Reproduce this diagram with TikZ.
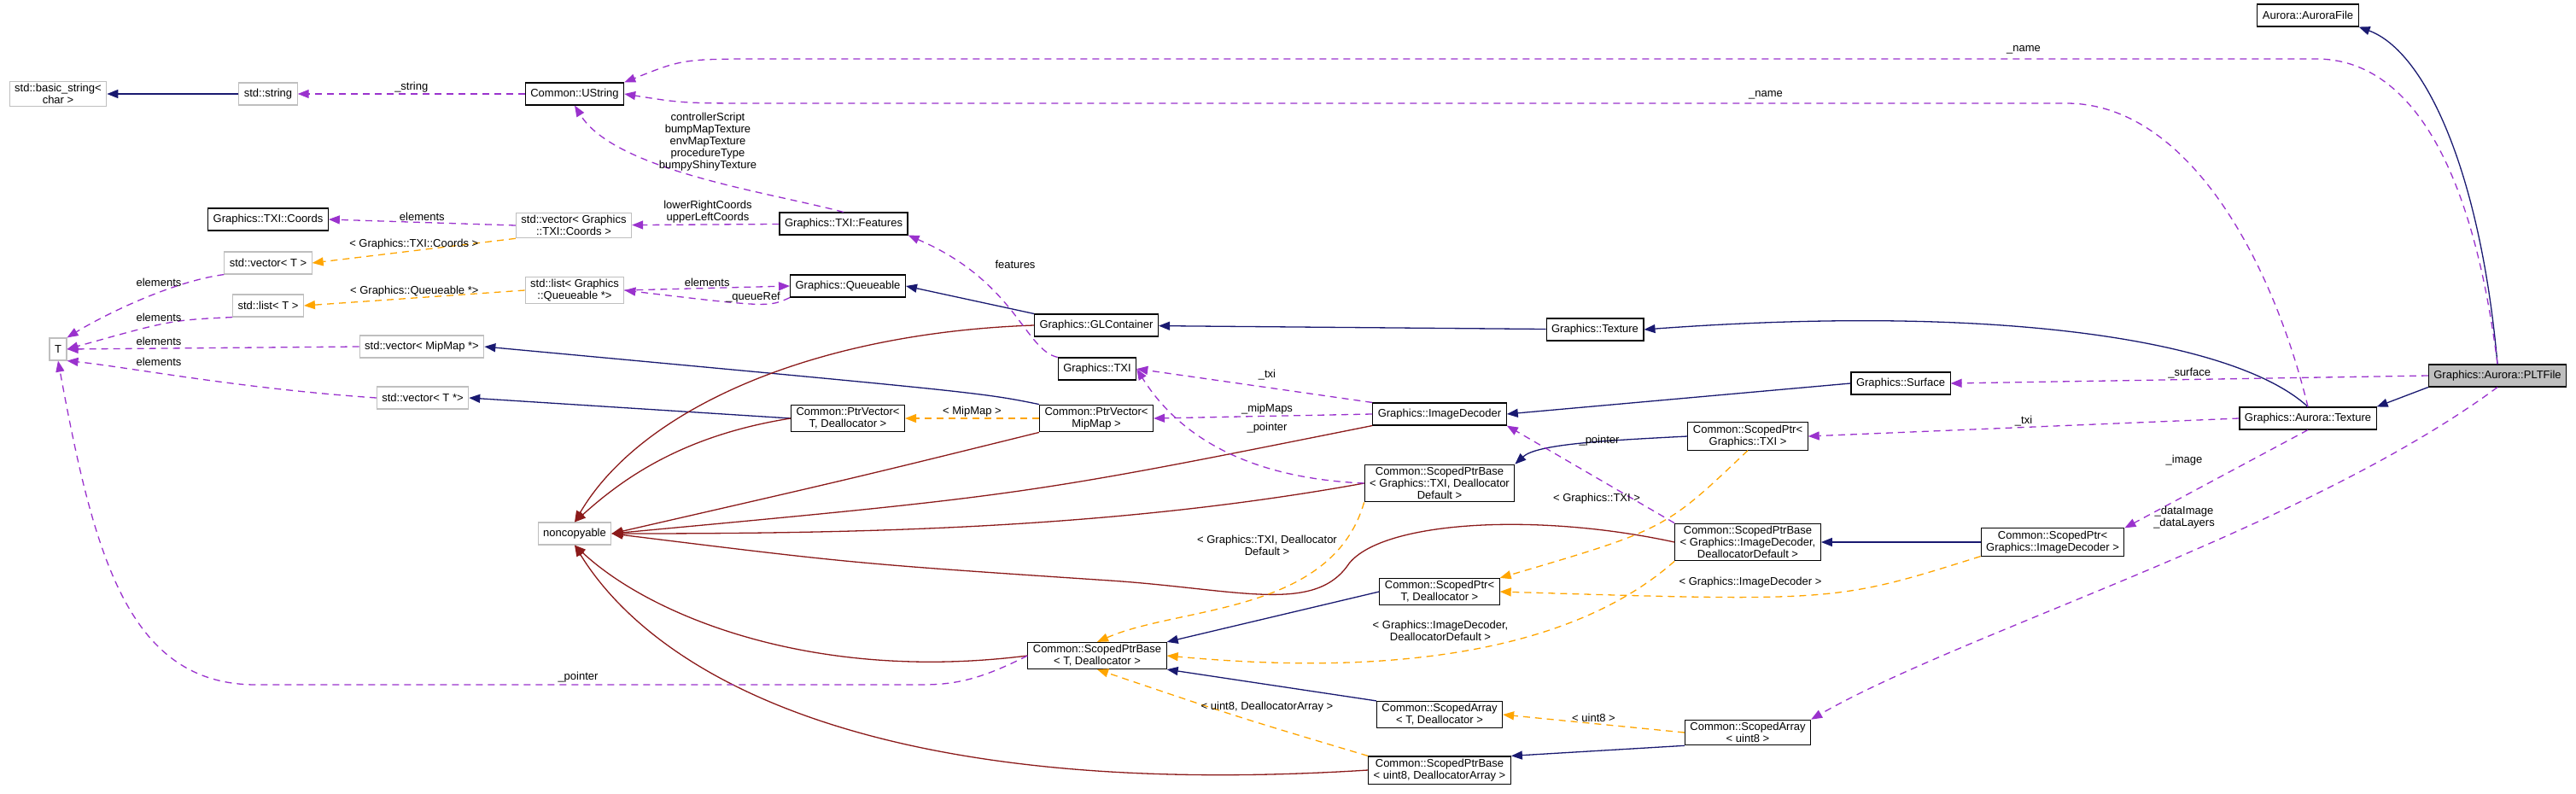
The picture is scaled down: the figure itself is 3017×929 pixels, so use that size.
\documentclass[tikz,border=0pt]{standalone}
\usepackage{fontspec}
\setmainfont{Liberation Sans}
\usetikzlibrary{arrows.meta}
\definecolor{navy}{HTML}{191970}
\definecolor{dred}{HTML}{8B1A1A}
\definecolor{purp}{HTML}{9A32CD}
\definecolor{orng}{HTML}{FFA500}
\definecolor{gbox}{HTML}{BFBFBF}
\tikzset{
  cls/.style={draw=black,line width=1.1pt,fill=white,align=center,inner xsep=6pt,inner ysep=3pt,minimum height=26pt,font=\fontsize{13}{14}\selectfont},
  ext/.style={cls,draw=gbox},
  cur/.style={cls,fill=gray!50},
  lbl/.style={font=\fontsize{13}{14}\selectfont,align=center,inner sep=1pt,text=black},
  tip/.style={-{Triangle[length=13pt,width=10pt]}},
  inh/.style={tip,navy,line width=1.3pt},
  ncp/.style={tip,dred,line width=1.3pt},
  use/.style={tip,purp,dashed,dash pattern=on 8pt off 6pt,line width=1.3pt},
  tpl/.style={tip,orng,dashed,dash pattern=on 8pt off 6pt,line width=1.3pt}
}
\begin{document}
\begin{tikzpicture}[x=1pt,y=-1pt]
    \useasboundingbox (0,0) rectangle (3017,929);
    % Nodes
    \node[ext] (bstr) at (68,110) {std::basic\_string\textless\\char \textgreater};
    \node[ext] (str) at (314,110) {std::string};
    \node[cls] (ustr) at (673,110) {Common::UString};
    \node[cls] (coords) at (314,257) {Graphics::TXI::Coords};
    \node[ext] (vcoords) at (672,264) {std::vector\textless{} Graphics\\::TXI::Coords \textgreater};
    \node[ext] (vect) at (314,308) {std::vector\textless{} T \textgreater};
    \node[ext] (lqueue) at (673,340) {std::list\textless{} Graphics\\::Queueable *\textgreater};
    \node[ext] (listt) at (314,358) {std::list\textless{} T \textgreater};
    \node[ext] (tt) at (68,409) {T};
    \node[ext] (vmip) at (494,406) {std::vector\textless{} MipMap *\textgreater};
    \node[ext] (vtp) at (495,466) {std::vector\textless{} T *\textgreater};
    \node[ext] (noncp) at (673,625) {noncopyable};
    \node[cls] (feat) at (988,262) {Graphics::TXI::Features};
    \node[cls] (queue) at (993,335) {Graphics::Queueable};
    \node[cls] (glc) at (1284,381) {Graphics::GLContainer};
    \node[cls] (txi) at (1285,432) {Graphics::TXI};
    \node[cls] (pvt) at (993,490) {Common::PtrVector\textless\\T, Deallocator \textgreater};
    \node[cls] (pvmip) at (1284,490) {Common::PtrVector\textless\\MipMap \textgreater};
    \node[cls] (imgdec) at (1686,485) {Graphics::ImageDecoder};
    \node[cls] (tex) at (1868,386) {Graphics::Texture};
    \node[cls] (spbtxi) at (1686,566) {Common::ScopedPtrBase\\\textless{} Graphics::TXI, Deallocator\\Default \textgreater};
    \node[cls] (sptxi) at (2047,511) {Common::ScopedPtr\textless\\Graphics::TXI \textgreater};
    \node[cls] (spbimg) at (2047,635) {Common::ScopedPtrBase\\\textless{} Graphics::ImageDecoder,\\DeallocatorDefault \textgreater};
    \node[cls] (spimg) at (2404,635) {Common::ScopedPtr\textless\\Graphics::ImageDecoder \textgreater};
    \node[cls] (spt) at (1686,693) {Common::ScopedPtr\textless\\T, Deallocator \textgreater};
    \node[cls] (spbt) at (1285,768) {Common::ScopedPtrBase\\\textless{} T, Deallocator \textgreater};
    \node[cls] (sat) at (1686,837) {Common::ScopedArray\\\textless{} T, Deallocator \textgreater};
    \node[cls] (sau8) at (2047,858) {Common::ScopedArray\\\textless{} uint8 \textgreater};
    \node[cls] (spbu8) at (1686,902) {Common::ScopedPtrBase\\\textless{} uint8, DeallocatorArray \textgreater};
    \node[cls] (surf) at (2226,449) {Graphics::Surface};
    \node[cls] (atex) at (2703,490) {Graphics::Aurora::Texture};
    \node[cls] (afile) at (2703,18) {Aurora::AuroraFile};
    \node[cur] (plt) at (2925,440) {Graphics::Aurora::PLTFile};
    % Inheritance
    \draw[inh] (str) -- (bstr);
    \draw[inh] (glc.north west) -- (queue.east);
    \draw[inh] (tex) -- (glc);
    \draw[inh] (atex.north) .. controls (2620,400) and (2350,355) .. (tex.east);
    \draw[inh] (plt.north) .. controls (2905,200) and (2840,60) .. (afile.south east);
    \draw[inh] (plt.south west) -- (atex.north east);
    \draw[inh] (surf.west) -- (imgdec.east);
    \draw[inh] (pvmip.north west) .. controls (1150,460) .. (vmip.east);
    \draw[inh] (pvt.west) -- (vtp.east);
    \draw[inh] (sptxi.west) .. controls (1880,516) and (1800,520) .. (spbtxi.north east);
    \draw[inh] (spimg) -- (spbimg);
    \draw[inh] (spt.west) -- (spbt.north east);
    \draw[inh] (sat.north west) -- (spbt.south east);
    \draw[inh] (sau8.south west) -- (spbu8.north east);
    % Noncopyable
    \draw[ncp] (glc.west) .. controls (950,390) and (750,480) .. (noncp.north);
    \draw[ncp] (pvt.west) .. controls (800,510) and (730,560) .. (noncp.north);
    \draw[ncp] (pvmip.south west) .. controls (1000,560) .. (noncp.east);
    \draw[ncp] (imgdec.south west) .. controls (1200,580) .. (noncp.east);
    \draw[ncp] (spbtxi.west) .. controls (1300,620) and (1000,625) .. (noncp.east);
    \draw[ncp] (spbimg.west) .. controls (1800,600) and (1620,610) .. (1580,660) .. controls (1540,720) and (1450,690) .. (1300,680) .. controls (1000,660) .. (noncp.east);
    \draw[ncp] (spbt.west) .. controls (950,800) and (760,720) .. (noncp.south);
    \draw[ncp] (spbu8.west) .. controls (1000,940) and (760,780) .. (noncp.south);
    % Members
    \draw[use] (ustr) -- node[lbl,above]{\_string} (str);
    \draw[use] (plt.north) .. controls (2890,150) and (2800,69) .. (2713,69) -- (900,69) .. controls (800,69) .. (ustr.north east);
    \node[lbl] at (2370,58) {\_name};
    \draw[use] (atex.north) .. controls (2660,300) and (2560,121) .. (2420,121) -- (900,121) .. controls (800,121) .. (ustr.east);
    \node[lbl] at (2068,111) {\_name};
    \draw[use] (feat.north) .. controls (900,225) and (720,200) .. (ustr.south);
    \node[lbl] at (829,166) {controllerScript\\bumpMapTexture\\envMapTexture\\procedureType\\bumpyShinyTexture};
    \draw[use] (feat) -- (vcoords);
    \node[lbl] at (829,248) {lowerRightCoords\\upperLeftCoords};
    \draw[use] (vcoords.west) -- node[lbl,above]{elements} (coords.east);
    \draw[use] (lqueue.east) -- node[lbl,above]{elements} (queue.west);
    \draw[use] (queue.south west) .. controls (900,360) .. node[lbl,above]{\_queueRef} (lqueue.east);
    \draw[use] (vect.south west) .. controls (200,330) and (120,370) .. (tt.north east);
    \draw[use] (listt.south west) .. controls (200,375) .. (tt.east);
    \draw[use] (vmip.west) -- (tt.east);
    \draw[use] (vtp.west) .. controls (280,455) and (150,430) .. (tt.south east);
    \node[lbl] at (186,331) {elements};
    \node[lbl] at (186,372) {elements};
    \node[lbl] at (186,400) {elements};
    \node[lbl] at (186,424) {elements};
    \draw[use] (spbt.west) .. controls (1150,795) and (1120,802) .. (1080,802) -- (300,802) .. controls (150,802) and (110,650) .. (tt.south);
    \node[lbl] at (677,793) {\_pointer};
    \draw[use] (txi.north west) .. controls (1200,410) and (1190,330) .. (feat.south east);
    \node[lbl] at (1189,310) {features};
    \draw[use] (imgdec.north west) -- (txi.east);
    \node[lbl] at (1484,439) {\_txi};
    \draw[use] (spbtxi.west) .. controls (1460,560) and (1380,510) .. (txi.east);
    \node[lbl] at (1484,501) {\_pointer};
    \draw[use] (imgdec.west) -- (pvmip.east);
    \node[lbl] at (1484,479) {\_mipMaps};
    \draw[use] (spbimg.north west) -- (imgdec.south east);
    \node[lbl] at (1873,516) {\_pointer};
    \draw[use] (plt.west) -- node[lbl,above,pos=0.5]{\_surface} (surf.east);
    \draw[use] (atex.west) -- node[lbl,above]{\_txi} (sptxi.east);
    \draw[use] (atex.south) -- (spimg.north east);
    \node[lbl] at (2558,539) {\_image};
    \draw[use] (plt.south) .. controls (2700,620) and (2300,740) .. (sau8.north east);
    \node[lbl] at (2558,606) {\_dataImage\\\_dataLayers};
    % Templates
    \draw[tpl] (vcoords.south west) -- node[lbl,above]{\textless{} Graphics::TXI::Coords \textgreater} (vect.east);
    \draw[tpl] (lqueue.west) -- node[lbl,above]{\textless{} Graphics::Queueable *\textgreater} (listt.east);
    \draw[tpl] (pvmip) -- node[lbl,above]{\textless{} MipMap \textgreater} (pvt);
    \draw[tpl] (spbtxi.south west) .. controls (1560,720) and (1380,710) .. (spbt.north);
    \node[lbl] at (1484,639) {\textless{} Graphics::TXI, Deallocator\\Default \textgreater};
    \draw[tpl] (spbimg.south west) .. controls (1800,800) and (1500,780) .. (spbt.east);
    \node[lbl] at (1687,739) {\textless{} Graphics::ImageDecoder,\\DeallocatorDefault \textgreater};
    \draw[tpl] (sptxi.south) .. controls (1950,620) .. (spt.north east);
    \node[lbl] at (1870,584) {\textless{} Graphics::TXI \textgreater};
    \draw[tpl] (spimg.south west) .. controls (2150,705) .. (spt.east);
    \node[lbl] at (2050,682) {\textless{} Graphics::ImageDecoder \textgreater};
    \draw[tpl] (sau8.west) -- node[lbl,above]{\textless{} uint8 \textgreater} (sat.east);
    \draw[tpl] (spbu8.north west) .. controls (1450,840) .. (spbt.south);
    \node[lbl] at (1484,828) {\textless{} uint8, DeallocatorArray \textgreater};
\end{tikzpicture}
\end{document}
